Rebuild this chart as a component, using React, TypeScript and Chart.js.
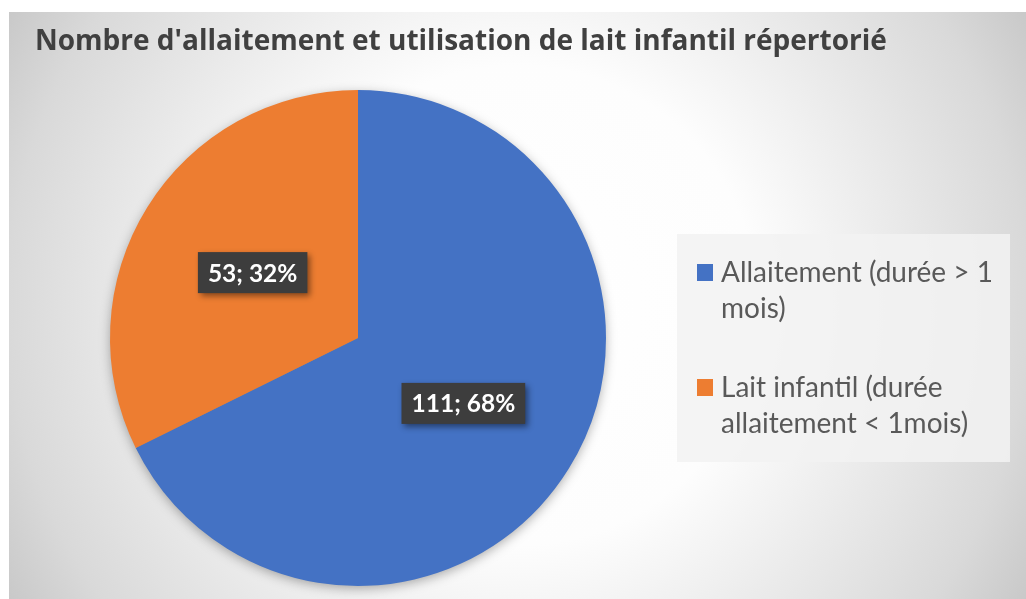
import React, { useEffect, useRef } from "react";
import { Chart, registerables } from "chart.js";

Chart.register(...registerables);

const chartTitle = "Nombre d'allaitement et utilisation de lait infantil répertorié";
const categories = ["Allaitement (durée > 1 mois)", "Lait infantil (durée allaitement < 1mois)"];
const values = [111, 53];
const sliceColors = ["#4472C4", "#ED7D31"];

const FONT = "Lato, 'Open Sans', sans-serif";
const TITLE_FONT = "'Open Sans', Lato, sans-serif";

function wrapText(ctx: CanvasRenderingContext2D, text: string, maxWidth: number): string[] {
  const words = text.split(" ");
  const lines: string[] = [];
  let cur = "";
  for (const w of words) {
    const test = cur ? cur + " " + w : w;
    if (ctx.measureText(test).width > maxWidth && cur) {
      lines.push(cur);
      cur = w;
    } else {
      cur = test;
    }
  }
  if (cur) lines.push(cur);
  return lines;
}

const decorPlugin = {
  id: "decor",
  beforeDraw(chart: any) {
    const { ctx, width, height } = chart;
    ctx.save();
    const cx = width / 2;
    const cy = height / 2;
    const g = ctx.createRadialGradient(cx, cy, 0, cx, cy, 600);
    g.addColorStop(0, "#ffffff");
    g.addColorStop(0.4, "#fdfdfd");
    g.addColorStop(0.85, "#d9d9d9");
    g.addColorStop(1, "#c6c6c6");
    ctx.fillStyle = g;
    ctx.fillRect(0, 0, width, height);
    ctx.restore();
  },
  beforeDatasetsDraw(chart: any) {
    const meta = chart.getDatasetMeta(0);
    const arc = meta.data[0];
    if (!arc) return;
    const { ctx } = chart;
    ctx.save();
    ctx.shadowColor = "rgba(0,0,0,0.35)";
    ctx.shadowBlur = 12;
    ctx.shadowOffsetX = 0;
    ctx.shadowOffsetY = 3;
    ctx.fillStyle = "#888888";
    ctx.beginPath();
    ctx.arc(arc.x, arc.y, arc.outerRadius - 1, 0, Math.PI * 2);
    ctx.fill();
    ctx.restore();
  },
  afterDatasetsDraw(chart: any) {
    const { ctx } = chart;
    const meta = chart.getDatasetMeta(0);
    const data = chart.data.datasets[0].data as number[];
    const total = data.reduce((a, b) => a + b, 0);
    ctx.save();
    ctx.font = `bold 24.5px ${FONT}`;
    ctx.textAlign = "center";
    ctx.textBaseline = "middle";
    meta.data.forEach((el: any, i: number) => {
      const p = el.tooltipPosition();
      const txt = `${data[i]}; ${Math.round((data[i] / total) * 100)}%`;
      const tw = ctx.measureText(txt).width;
      const bw = tw + 20;
      const bh = 41;
      ctx.save();
      ctx.shadowColor = "rgba(0,0,0,0.45)";
      ctx.shadowBlur = 6;
      ctx.shadowOffsetX = 3;
      ctx.shadowOffsetY = 3;
      ctx.fillStyle = "#3d3d3d";
      ctx.fillRect(p.x - bw / 2, p.y - bh / 2, bw, bh);
      ctx.restore();
      ctx.fillStyle = "#ffffff";
      ctx.fillText(txt, p.x, p.y + 1);
    });
    ctx.restore();
  },
  afterDraw(chart: any) {
    const { ctx } = chart;
    ctx.save();
    // title
    ctx.font = `bold 28px ${TITLE_FONT}`;
    ctx.fillStyle = "#404040";
    ctx.textAlign = "left";
    ctx.textBaseline = "alphabetic";
    ctx.fillText(chartTitle, 26, 38);

    // legend
    const bx = 668, by = 222, bw = 333, bh = 228;
    ctx.fillStyle = "rgba(242,242,242,0.85)";
    ctx.fillRect(bx, by, bw, bh);
    ctx.font = `28px ${FONT}`;
    const labels = chart.data.labels as string[];
    const colors = chart.data.datasets[0].backgroundColor as string[];
    const lineH = 36;
    const itemTops = [270, 385];
    labels.forEach((lab, i) => {
      const base = itemTops[i];
      ctx.fillStyle = colors[i];
      ctx.fillRect(688, base - 18, 16, 17);
      ctx.fillStyle = "#595959";
      const lines = wrapText(ctx, lab, 285);
      lines.forEach((ln, j) => {
        ctx.fillText(ln, 712, base + j * lineH);
      });
    });
    ctx.restore();
  },
};

export default function App() {
  const canvasRef = useRef<HTMLCanvasElement | null>(null);
  useEffect(() => {
    if (!canvasRef.current) return;
    const chart = new Chart(canvasRef.current, {
      type: "pie",
      data: {
        labels: categories,
        datasets: [
          {
            data: values,
            backgroundColor: sliceColors,
            borderWidth: 0,
            hoverOffset: 0,
            offset: 0,
          },
        ],
      },
      options: {
        animation: false,
        responsive: false,
        rotation: 0,
        layout: { padding: { left: 101, top: 78, right: 420, bottom: 13 } },
        plugins: {
          legend: { display: false },
          title: { display: false },
          tooltip: { enabled: false },
        },
      },
      plugins: [decorPlugin],
    });
    return () => chart.destroy();
  }, []);
  return (
    <div style={{ position: "absolute", left: 9, top: 12, width: 1017, height: 587 }}>
      <canvas ref={canvasRef} width={1017} height={587} style={{ display: "block", width: 1017, height: 587 }} />
    </div>
  );
}
